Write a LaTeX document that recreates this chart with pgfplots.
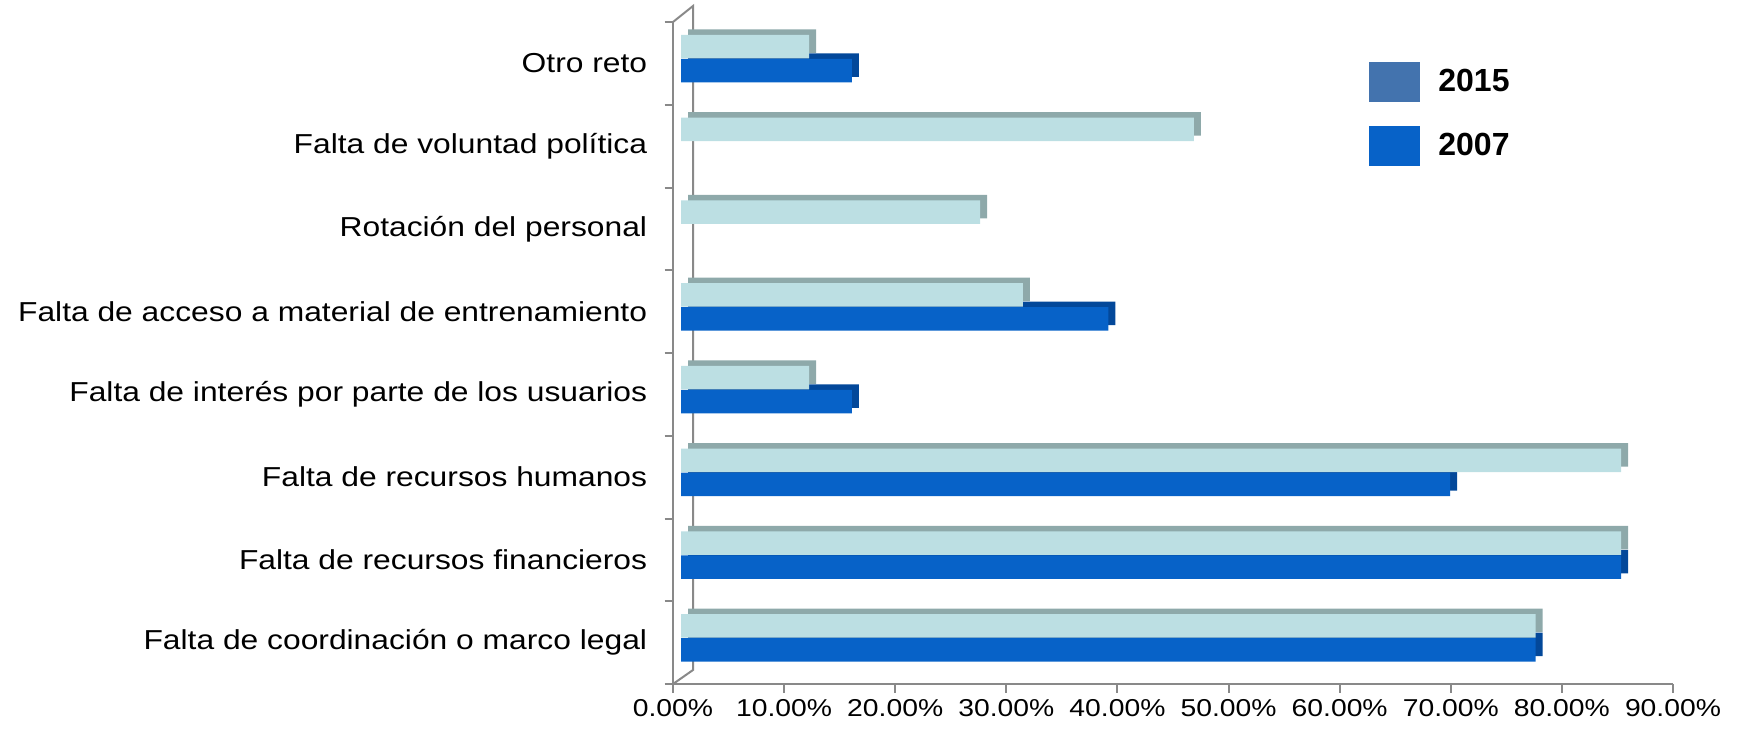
\documentclass[border=0pt]{standalone}
\usepackage{pgfplots}
\usepackage{pgfplotstable}
\pgfplotsset{compat=1.18}
\usepackage{fontspec}
\setmainfont{Liberation Sans}[FakeStretch=1.16]
\newfontfamily\legfont{Liberation Sans}
\definecolor{lightbar}{HTML}{BCDFE3}
\definecolor{lighttop}{HTML}{8EA9AA}
\definecolor{darkbar}{HTML}{0762C8}
\definecolor{darktop}{HTML}{03489A}
\definecolor{leg15}{HTML}{4373AE}
\definecolor{axisgray}{HTML}{898989}

% 2015 series (category index, percent)
\pgfplotstableread{
y v
0 76.92
1 84.62
2 84.62
3 11.54
4 30.77
5 26.92
6 46.15
7 11.54
}\dataA
% 2007 series (zero values omitted)
\pgfplotstableread{
y v
0 76.92
1 84.62
2 69.23
3 15.38
4 38.46
7 15.38
}\dataB

\begin{document}
\begin{tikzpicture}
\begin{axis}[
  scale only axis, width=500pt, height=331pt,
  xmin=0, xmax=90, ymin=-0.5, ymax=7.5,
  clip=false,
  axis lines*=left,
  axis line style={axisgray, line width=1pt},
  tick style={axisgray, line width=1pt},
  tick align=outside,
  major tick length=4.25pt,
  xtick={0,10,20,30,40,50,60,70,80,90},
  xticklabels={0.00\%,10.00\%,20.00\%,30.00\%,40.00\%,50.00\%,60.00\%,70.00\%,80.00\%,90.00\%},
  xticklabel style={font=\fontsize{12.2}{14}\selectfont, inner sep=0pt, anchor=north, yshift=-3.5pt},
  ytick={-0.5,0.5,1.5,2.5,3.5,4.5,5.5,6.5,7.5},
  y tick label as interval,
  yticklabels={Falta de coordinación o marco legal,Falta de recursos financieros,Falta de recursos humanos,Falta de interés por parte de los usuarios,Falta de acceso a material de entrenamiento,Rotación del personal,Falta de voluntad política,Otro reto,{}},
  yticklabel style={font=\fontsize{13.7}{16}\selectfont, inner sep=0pt, anchor=east, xshift=-8.5pt},
  legend style={at={(rel axis cs:0.696,0.94)}, anchor=north west, draw=none, fill=none, inner sep=0pt, row sep=12pt, font=\legfont\bfseries\fontsize{16}{18}\selectfont, nodes={inner sep=0pt}, /tikz/every odd column/.append style={column sep=9pt}},
  legend cell align=left,
  legend image code/.code={\path[#1] (0pt,-10pt) rectangle (25.5pt,10pt);},
]
% back wall
\draw[axisgray, line width=1pt] (rel axis cs:0,1) -- ++(10pt,8pt) -- ([shift={(10pt,7pt)}]rel axis cs:0,0) -- (rel axis cs:0,0);

% 2007: top/side face, then front face
\addplot[xbar, forget plot, draw=none, fill=darktop, bar width=11.75pt, bar shift=-0.85pt, xshift=7.5pt] table[x=v, y=y] {\dataB};
\addplot[xbar, forget plot, draw=none, fill=darkbar, bar width=11.75pt, bar shift=-3.6pt, xshift=4pt] table[x=v, y=y] {\dataB};
% 2015: top/side face, then front face
\addplot[xbar, forget plot, draw=none, fill=lighttop, bar width=11.75pt, bar shift=11.15pt, xshift=7.5pt] table[x=v, y=y] {\dataA};
\addplot[xbar, forget plot, draw=none, fill=lightbar, bar width=11.75pt, bar shift=8.4pt, xshift=4pt] table[x=v, y=y] {\dataA};

\addlegendimage{fill=leg15, draw=none}
\addlegendentry{2015}
\addlegendimage{fill=darkbar, draw=none}
\addlegendentry{2007}
\end{axis}
\pgfresetboundingbox
\path ([shift={(-336.5pt,-24pt)}]current axis.south west) rectangle ([shift={(32pt,11pt)}]current axis.north east);
\end{tikzpicture}
\end{document}
